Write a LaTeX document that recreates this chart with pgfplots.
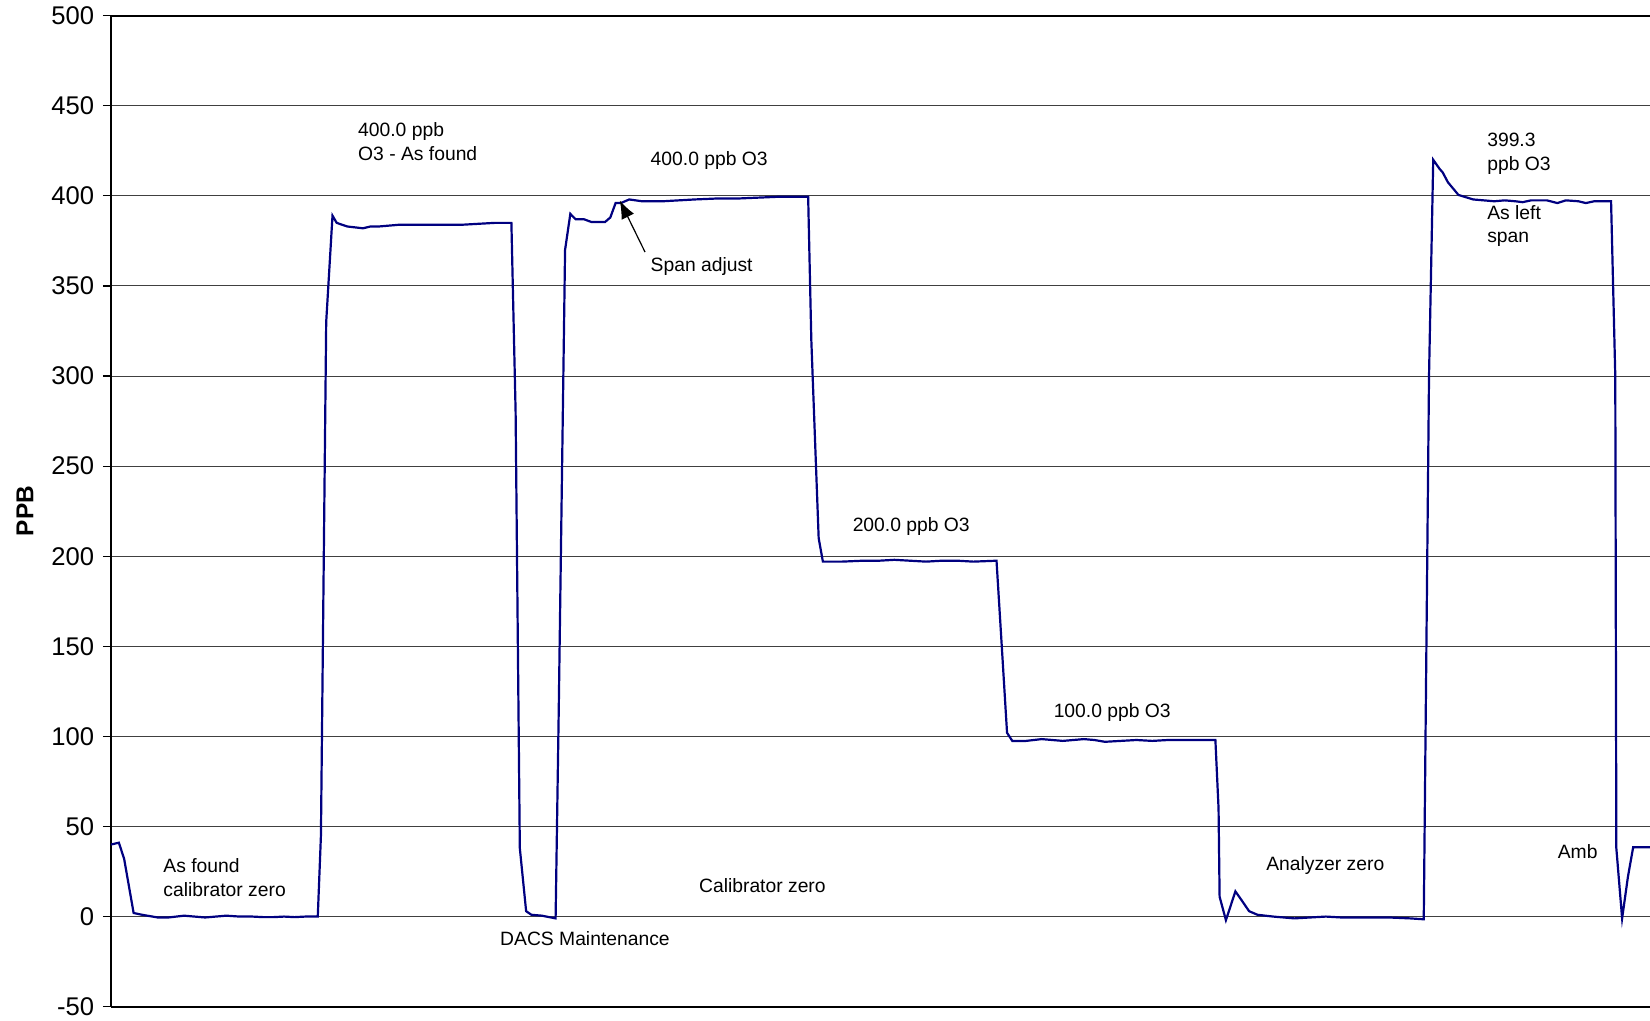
\documentclass[border=0pt]{standalone}
\usepackage{pgfplots}
\pgfplotsset{compat=1.18}
\usepackage{fontspec}
\setmainfont{Liberation Sans}
\usetikzlibrary{arrows.meta}
\definecolor{navyline}{RGB}{0,0,128}
\begin{document}
\begin{tikzpicture}
\begin{axis}[
  scale only axis,
  width=769.5pt, height=495.5pt,
  xmin=105.5, xmax=1568,
  ymin=-50, ymax=500,
  ytick={-50,0,50,...,500},
  xtick=\empty,
  axis x line*=box,
  axis y line*=left,
  axis line style={line width=1pt, black},
  ymajorgrids,
  major grid style={line width=0.5pt, black!75},
  tick align=outside,
  major tick length=4pt,
  tick style={line width=0.6pt, black},
  /pgf/number format/assume math mode=true,
  yticklabel style={font=\fontsize{12.8}{14}\selectfont, inner sep=1pt, xshift=-3.2pt},
  every axis y label/.style={at={(axis description cs:-0.0559,0.5)}, rotate=90, anchor=center},
  ylabel={\fontsize{12.2}{14}\selectfont\bfseries PPB},
  clip mode=individual,
]
\coordinate (LL) at (rel axis cs:0,0);
\coordinate (UR) at (rel axis cs:1,1);
\addplot[navyline, line width=1.1pt] coordinates {
(105.5,40) (113,41) (118,32) (127,2) (135,1) (150,-0.5) (160,-0.5) (175,0.5) (185,0) (195,-0.5) (205,0) (215,0.5) (228,0) (240,0) (250,-0.3) (260,-0.3) (270,0) (280,-0.3) (290,0) (302,0)
(305,45) (310,330) (316,389) (320,385) (330,383) (345,382) (352,383) (360,383) (370,383.5) (380,384) (395,384) (410,384) (425,384) (440,384) (455,384.5) (470,385) (486,385)
(490,280) (494,38) (500,3) (505,1) (515,0.5) (528,-1)
(531,115) (537,370) (542,390) (547,387) (555,387) (562,385.5) (575,385.5) (580,388) (585,396) (590,396) (598,398) (610,397) (630,397) (645,397.5) (660,398) (680,398.5) (700,398.5) (720,399) (740,399.5) (755,399.5) (768,399.5)
(771,320) (778,210) (782,197) (800,197) (820,197.5) (835,197.5) (850,198) (865,197.5) (880,197) (895,197.5) (910,197.5) (925,197) (947,197.5)
(952,150) (957,102) (962,97.5) (975,97.5) (990,98.5) (1000,98) (1010,97.5) (1020,98) (1030,98.5) (1040,98) (1050,97) (1065,97.5) (1080,98) (1095,97.5) (1110,98) (1130,98) (1155,98)
(1158,60) (1159,11) (1165,-2) (1174,14) (1180,9) (1187,3) (1195,1) (1210,0) (1230,-1) (1245,-0.5) (1260,0) (1275,-0.5) (1290,-0.5) (1305,-0.5) (1320,-0.5) (1340,-1) (1353,-1.5)
(1358,300) (1362,420) (1368,415) (1371,413) (1376,407.5) (1386,400.5) (1400,398) (1410,397.5) (1420,397) (1430,397.5) (1440,397) (1447,396.5) (1455,397.5) (1470,397.5) (1480,396) (1488,397.5) (1500,397) (1507,396) (1515,397) (1531,397)
(1535,300) (1536,38) (1541.5,-1) (1547,22) (1552,38.5) (1568,38.5)
};
\begin{scope}[every node/.style={font=\fontsize{9.65}{11.6}\selectfont, inner sep=0pt, align=left, anchor=west}]
\node at (axis cs:340,430.1) {400.0 ppb\\O3 - As found};
\node at (axis cs:618,419.5) {400.0 ppb O3};
\node at (axis cs:618,360.6) {Span adjust};
\node at (axis cs:810,216.4) {200.0 ppb O3};
\node at (axis cs:1001,113.0) {100.0 ppb O3};
\node at (axis cs:155,21.6) {As found\\calibrator zero};
\node at (axis cs:664,17.2) {Calibrator zero};
\node at (axis cs:475,-12.0) {DACS Maintenance};
\node at (axis cs:1203,28.3) {Analyzer zero};
\node at (axis cs:1413,423.4) {399.3\\ppb O3};
\node at (axis cs:1413,383.4) {As left\\span};
\node at (axis cs:1480,35.9) {Amb};
\end{scope}
\draw[line width=0.6pt, -{Latex[length=9pt,width=7pt]}] (axis cs:613,368.8) -- (axis cs:589,397.4);
\end{axis}
\pgfresetboundingbox
\path[use as bounding box] ([xshift=-55.5pt,yshift=-7.15pt]LL) rectangle ([yshift=7.85pt]UR);
\end{tikzpicture}
\end{document}
